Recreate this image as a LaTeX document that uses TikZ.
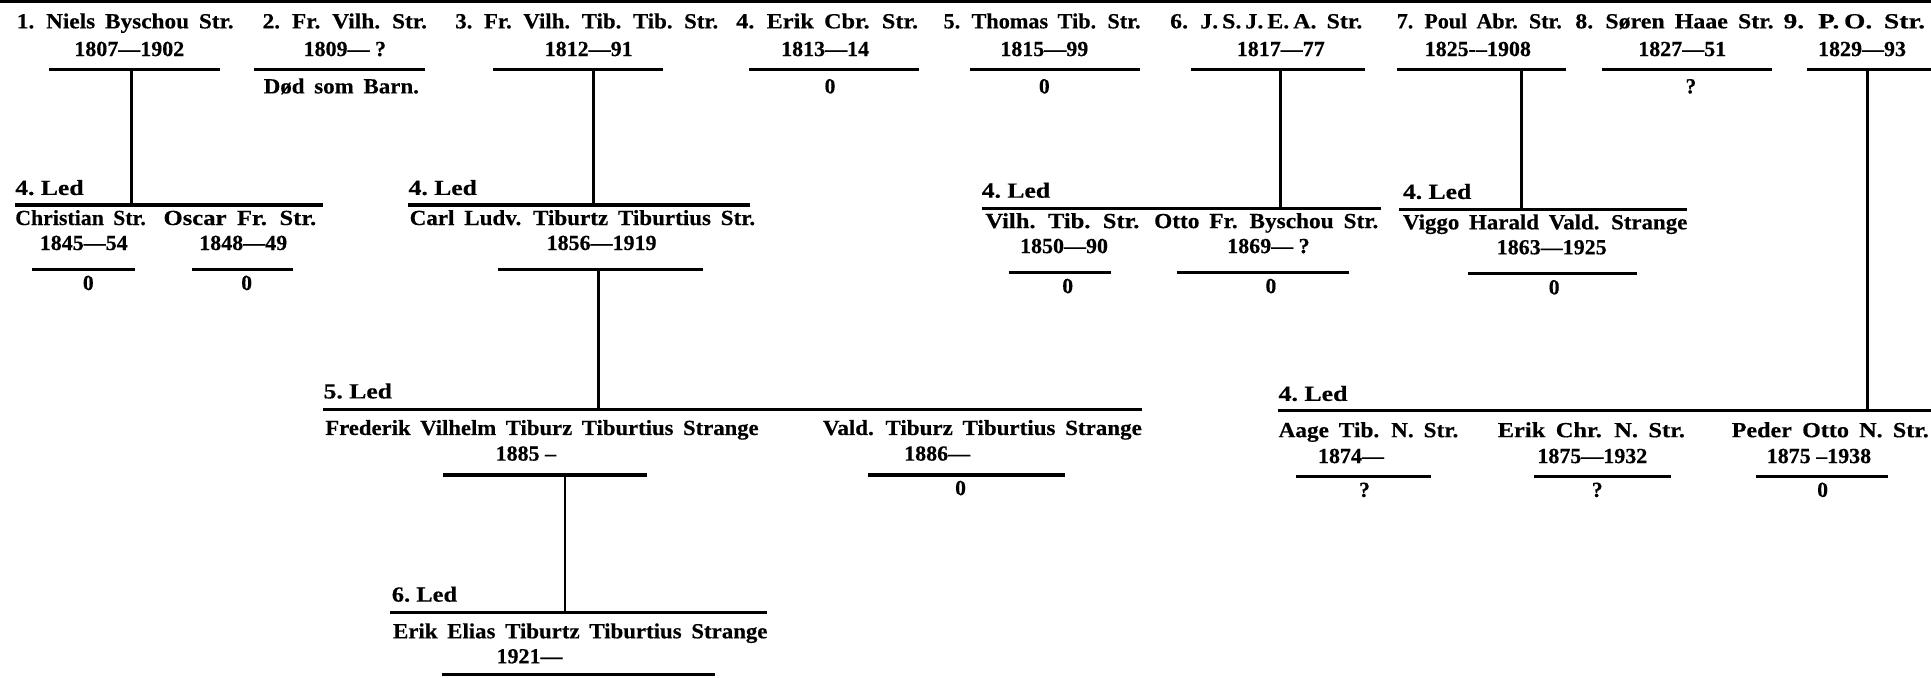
\documentclass[tikz,border=0pt]{standalone}
\usepackage{fontspec}
\setmainfont{Liberation Serif}[BoldFeatures={FakeBold=0.35,WordSpace=1.7}]
\usepackage{graphicx}
\newcommand\fw[2]{\resizebox{#1pt}{\height}{#2}}
\newcommand\dt[1]{\scalebox{1.02}[1]{#1}}
\newcommand\tsp{\hspace{0.25em}}
\begin{document}
\begin{tikzpicture}[x=1pt,y=-1pt,
  txt/.style={inner sep=0pt, font=\bfseries\fontsize{17.5}{19}\selectfont},
  nm/.style={txt, anchor=base west},
  ct/.style={txt, anchor=base},
  hbar/.style={line width=2.6pt},
  vbar/.style={line width=2.1pt}]
\useasboundingbox (0,0) rectangle (1568,550);
% top border
\draw[hbar] (0,1.3) -- (1568,1.3);

% ---------- Row 1 ----------
\node[nm] (n1) at (13.5,23) {\fw{176}{1. Niels Byschou Str.}};
\node[ct] (d1) at (105,45.5) {\dt{1807—1902}};
\draw[hbar] (40,56.5) -- (179,56.5);

\node[nm] (n2) at (213,23) {\fw{133.5}{2. Fr. Vilh. Str.}};
\node[ct] (d2) at (280,45.5) {\dt{1809—\tsp?}};
\draw[hbar] (206,56.5) -- (345,56.5);
\node[nm] (x2) at (214,75.8) {\fw{126}{Død som Barn.}};

\node[nm] (n3) at (369.5,23) {\fw{213.5}{3. Fr. Vilh. Tib. Tib. Str.}};
\node[ct] (d3) at (478,45.5) {\dt{1812—91}};
\draw[hbar] (400,56.5) -- (538,56.5);

\node[nm] (n4) at (597.6,23) {\fw{147.7}{4. Erik Cbr. Str.}};
\node[ct] (d4) at (670,45.5) {\dt{1813—14}};
\draw[hbar] (608,56.5) -- (746,56.5);
\node[ct] (z4) at (674,75.8) {0};

\node[nm] (n5) at (766,23) {\fw{160}{5. Thomas Tib. Str.}};
\node[ct] (d5) at (848,45.5) {\dt{1815—99}};
\draw[hbar] (788,56.5) -- (926,56.5);
\node[ct] (z5) at (848,75.8) {0};

\node[nm] (n6) at (950,23) {\fw{156}{6. J.\,S.\,J.\,E.\,A. Str.}};
\node[ct] (d6) at (1040,45.5) {\dt{1817—77}};
\draw[hbar] (967,56.5) -- (1108,56.5);

\node[nm] (n7) at (1134,23) {\fw{134}{7. Poul Abr. Str.}};
\node[ct] (d7) at (1200,45.5) {\dt{1825-–1908}};
\draw[hbar] (1134,56.5) -- (1272,56.5);

\node[nm] (n8) at (1279,23) {\fw{161}{8. Søren Haae Str.}};
\node[ct] (d8) at (1366,45.5) {\dt{1827—51}};
\draw[hbar] (1300.6,56.5) -- (1438.7,56.5);
\node[ct] (z8) at (1373,75.8) {?};

\node[nm] (n9) at (1448,23) {\fw{115}{9. P.\,O. Str.}};
\node[ct] (d9) at (1512,45.5) {\dt{1829—93}};
\draw[hbar] (1467,56.5) -- (1568,56.5);

% ---------- vertical connectors ----------
\coordinate (t1) at (107,56.5);     \coordinate (b1) at (107,166.5);
\coordinate (t3) at (482,56.5);     \coordinate (b3) at (482,166.5);
\coordinate (t6) at (1040,56.5);    \coordinate (b6) at (1040,169);
\coordinate (t7) at (1235.6,56.5);  \coordinate (b7) at (1235.6,170);
\coordinate (t9) at (1516.5,56.5);  \coordinate (b9) at (1516.5,333.5);
\coordinate (tB) at (485.9,218.7);  \coordinate (bB) at (485.9,332.4);
\coordinate (tE) at (458.8,385.7);  \coordinate (bE) at (458.8,497.2);
\draw[vbar] (t1) -- (b1);
\draw[vbar] (t3) -- (b3);
\draw[vbar] (t6) -- (b6);
\draw[vbar] (t7) -- (b7);
\draw[vbar] (t9) -- (b9);
\draw[vbar] (tB) -- (bB);
\draw[vbar] (tE) -- (bE);

% ---------- Row 2, group A ----------
\node[nm] (lA) at (12.2,158.3) {\fw{55.5}{4.\tsp Led}};
\draw[hbar] (12.2,166.5) -- (262.4,166.5);
\node[nm] (nA1) at (12.2,182.7) {\fw{106}{Christian Str.}};
\node[ct] (dA1) at (68,203) {\dt{1845—54}};
\draw[hbar] (25.7,218.7) -- (109.6,218.7);
\node[ct] (zA1) at (71.7,235.5) {0};
\node[nm] (nA2) at (132.6,182.7) {\fw{124}{Oscar Fr. Str.}};
\node[ct] (dA2) at (197.5,203) {\dt{1848—49}};
\draw[hbar] (155.7,218.7) -- (238.2,218.7);
\node[ct] (zA2) at (200.3,235.5) {0};

% ---------- Row 2, group B ----------
\node[nm] (lB) at (331.6,158.3) {\fw{55.5}{4.\tsp Led}};
\draw[hbar] (331,166.5) -- (609,166.5);
\node[nm] (nB) at (332.5,182.7) {\fw{280.5}{Carl Ludv. Tiburtz Tiburtius Str.}};
\node[ct] (dB) at (488.5,203) {\dt{1856—1919}};
\draw[hbar] (404,218.7) -- (571,218.7);

% ---------- Row 2, group C ----------
\node[nm] (lC) at (797,160.5) {\fw{55.5}{4.\tsp Led}};
\draw[hbar] (797,169) -- (1121,169);
\node[nm] (nC1) at (800,185.2) {\fw{125}{Vilh. Tib. Str.}};
\node[ct] (dC1) at (864,205.5) {\dt{1850—90}};
\draw[hbar] (819,221.2) -- (902,221.2);
\node[ct] (zC1) at (867,238) {0};
\node[nm] (nC2) at (937,185.2) {\fw{182}{Otto Fr. Byschou Str.}};
\node[ct] (dC2) at (1030,205.5) {\dt{1869—\tsp?}};
\draw[hbar] (956,221.2) -- (1095,221.2);
\node[ct] (zC2) at (1032,238) {0};

% ---------- Row 2, group D ----------
\node[nm] (lD) at (1139,161.5) {\fw{55.5}{4.\tsp Led}};
\draw[hbar] (1136,170) -- (1370,170);
\node[nm] (nD) at (1139,186.2) {\fw{231}{Viggo Harald Vald. Strange}};
\node[ct] (dD) at (1260,206.5) {\dt{1863—1925}};
\draw[hbar] (1192,222.2) -- (1329,222.2);
\node[ct] (zD) at (1262,239) {0};

% ---------- Row 3, 5. Led ----------
\node[nm] (lE) at (262.6,323.5) {\fw{55.5}{5.\tsp Led}};
\draw[hbar] (262.6,332.4) -- (927,332.4);
\node[nm] (nE1) at (264,353.2) {\fw{351.8}{Frederik Vilhelm Tiburz Tiburtius Strange}};
\node[ct] (dE1) at (427,374) {\dt{1885\tsp–}};
\draw[hbar] (360,385.7) -- (525,385.7);
\node[nm] (nE2) at (668,353.2) {\fw{259}{Vald. Tiburz Tiburtius Strange}};
\node[ct] (dE2) at (761,374) {\dt{1886—}};
\draw[hbar] (705,385.7) -- (865,385.7);
\node[ct] (zE2) at (780,402) {0};

% ---------- Row 3, right group ----------
\node[nm] (lR) at (1038,325.5) {\fw{56}{4.\tsp Led}};
\draw[hbar] (1038,333.5) -- (1568,333.5);
\node[nm] (nR1) at (1038,355) {\fw{146}{Aage Tib. N. Str.}};
\node[ct] (dR1) at (1097,376) {\dt{1874—}};
\draw[hbar] (1052,387) -- (1162,387);
\node[ct] (zR1) at (1108,403.5) {?};
\node[nm] (nR2) at (1216,355) {\fw{152}{Erik Chr. N. Str.}};
\node[ct] (dR2) at (1293,376) {\dt{1875—1932}};
\draw[hbar] (1246,387) -- (1357,387);
\node[ct] (zR2) at (1297,403.5) {?};
\node[nm] (nR3) at (1406,355) {\fw{160}{Peder Otto N. Str.}};
\node[ct] (dR3) at (1477,376) {\dt{1875\tsp–1938}};
\draw[hbar] (1426,387) -- (1533,387);
\node[ct] (zR3) at (1480,403.5) {0};

% ---------- Row 4, 6. Led ----------
\node[nm] (lF) at (318,488.5) {\fw{53}{6.\tsp Led}};
\draw[hbar] (317,497.2) -- (623,497.2);
\node[nm] (nF) at (319,518.3) {\fw{304}{Erik Elias Tiburtz Tiburtius Strange}};
\node[ct] (dF) at (430,538.6) {\dt{1921—}};
\draw[hbar] (358.6,548) -- (580.6,548);
\end{tikzpicture}
\end{document}
